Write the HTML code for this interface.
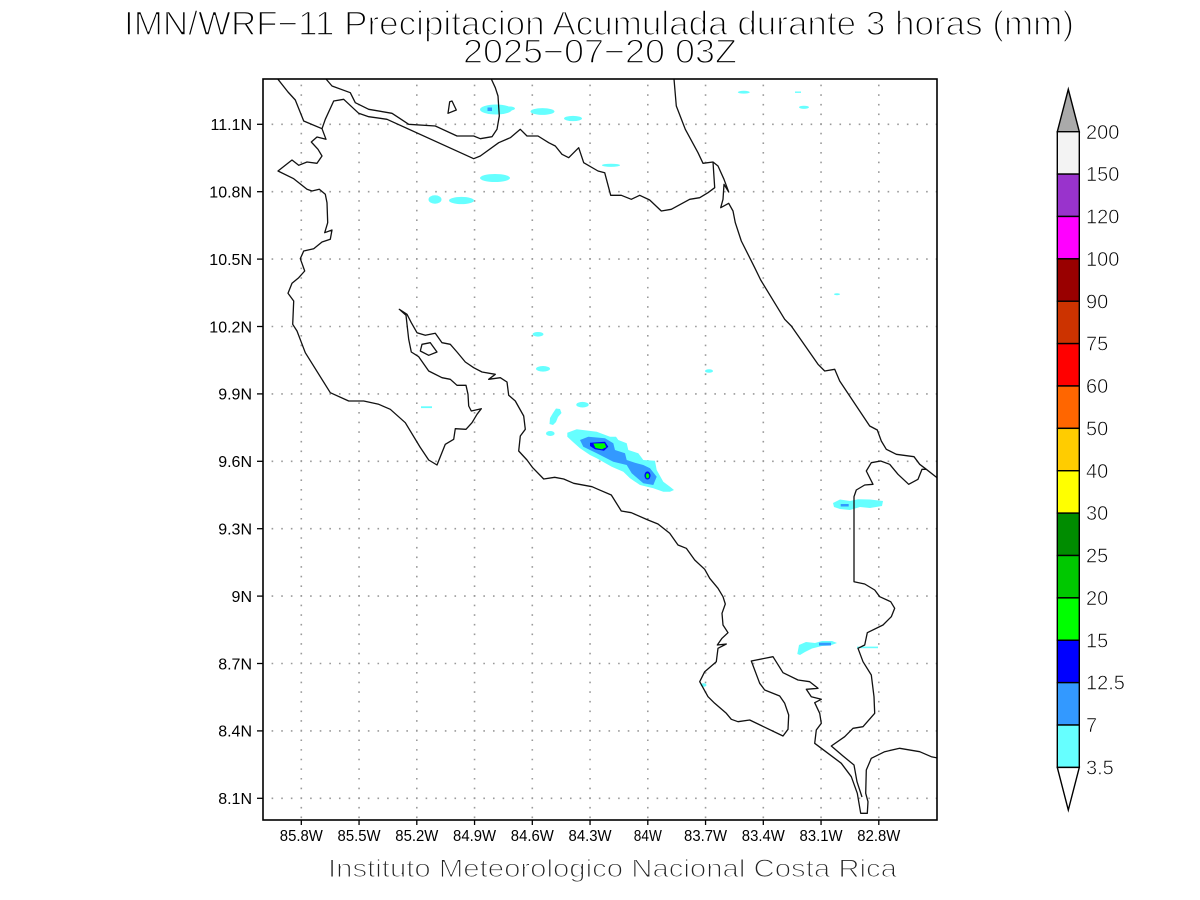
<!DOCTYPE html>
<html><head><meta charset="utf-8"><style>
html,body{margin:0;padding:0;background:#fff;}
svg{display:block;}
text{font-family:"Liberation Sans",Arial,sans-serif;}
</style></head><body>
<svg width="1200" height="900" viewBox="0 0 1200 900" xmlns="http://www.w3.org/2000/svg">
<rect width="1200" height="900" fill="#fff"/>
<!-- Title -->
<g fill="#000" stroke="#fff" stroke-width="1.4" text-anchor="middle">
<text x="599" y="35" font-size="34" textLength="950" lengthAdjust="spacingAndGlyphs">IMN/WRF−11 Precipitacion Acumulada durante 3 horas (mm)</text>
<text x="600" y="63" font-size="34" textLength="274" lengthAdjust="spacingAndGlyphs">2025−07−20 03Z</text>
</g>

<defs><clipPath id="c"><rect x="263" y="79" width="674" height="741"/></clipPath></defs>

<!-- grid -->
<g stroke="#9a9a9a" stroke-width="1.6" stroke-dasharray="1.6 8.025" fill="none">
<line x1="271.6" y1="124.3" x2="937" y2="124.3"/>
<line x1="271.6" y1="191.7" x2="937" y2="191.7"/>
<line x1="271.6" y1="259.1" x2="937" y2="259.1"/>
<line x1="271.6" y1="326.5" x2="937" y2="326.5"/>
<line x1="271.6" y1="393.9" x2="937" y2="393.9"/>
<line x1="271.6" y1="461.3" x2="937" y2="461.3"/>
<line x1="271.6" y1="528.7" x2="937" y2="528.7"/>
<line x1="271.6" y1="596.1" x2="937" y2="596.1"/>
<line x1="271.6" y1="663.5" x2="937" y2="663.5"/>
<line x1="271.6" y1="730.9" x2="937" y2="730.9"/>
<line x1="271.6" y1="798.3" x2="937" y2="798.3"/>
</g>
<g stroke="#9a9a9a" stroke-width="1.6" stroke-dasharray="1.6 8.03" fill="none">
<line x1="301.3" y1="84.6" x2="301.3" y2="820"/>
<line x1="359.05" y1="84.6" x2="359.05" y2="820"/>
<line x1="416.8" y1="84.6" x2="416.8" y2="820"/>
<line x1="474.55" y1="84.6" x2="474.55" y2="820"/>
<line x1="532.3" y1="84.6" x2="532.3" y2="820"/>
<line x1="590.05" y1="84.6" x2="590.05" y2="820"/>
<line x1="647.8" y1="84.6" x2="647.8" y2="820"/>
<line x1="705.55" y1="84.6" x2="705.55" y2="820"/>
<line x1="763.3" y1="84.6" x2="763.3" y2="820"/>
<line x1="821.05" y1="84.6" x2="821.05" y2="820"/>
<line x1="878.8" y1="84.6" x2="878.8" y2="820"/>
</g>

<!-- precipitation -->
<g clip-path="url(#c)">
<g fill="#66ffff">
<ellipse cx="496" cy="109.5" rx="16" ry="5"/>
<ellipse cx="510" cy="108.5" rx="5" ry="2"/>
<ellipse cx="542.5" cy="111.5" rx="12" ry="3.4"/>
<ellipse cx="573" cy="118.5" rx="9" ry="2.6"/>
<ellipse cx="495" cy="178" rx="15" ry="4"/>
<ellipse cx="435" cy="199.5" rx="6.5" ry="4.2"/>
<ellipse cx="461.5" cy="200.5" rx="12.5" ry="3.6"/>
<ellipse cx="538" cy="334.3" rx="5.5" ry="2.3"/>
<ellipse cx="543" cy="368.8" rx="7" ry="2.8"/>
<rect x="421" y="406.3" width="11" height="1.8"/>
<ellipse cx="582.5" cy="404.7" rx="6.2" ry="2.8"/>
<polygon points="556,408.5 560,409 561.5,413 558,417 556,422 553,425 549.5,424 550,418 553,413"/>
<ellipse cx="550.3" cy="433.5" rx="4.3" ry="2.5"/>
<ellipse cx="743.8" cy="92.2" rx="6" ry="1.4"/>
<rect x="795" y="91.5" width="6" height="1.4"/>
<ellipse cx="804" cy="107.3" rx="5" ry="1.6"/>
<ellipse cx="611" cy="165.3" rx="9" ry="1.6"/>
<ellipse cx="837" cy="294.2" rx="3" ry="1"/>
<ellipse cx="709" cy="371" rx="4" ry="1.8"/>
<polygon points="833,503 840,499.5 850,501 858,499.3 870,499.5 883,501 882,506 870,508 860,507 850,510 840,509 834,507"/>
<polygon points="797.3,654 799,645 806,642 815,643 822,641 832,641 837,643 830,645.5 822,646 812,648.5 805,652 800,655"/>
<rect x="857" y="646.6" width="21" height="1.6"/>
<ellipse cx="703.5" cy="685" rx="3" ry="1.8"/>
<polygon points="567.3,432.7 576.7,429.3 596.7,431.7 610,436.7 616,436.7 618.3,440 626.7,443.3 628.3,450 638.3,453.3 643.3,460 655,460.7 656.7,470 663.3,481.7 670,486.7 674,490 670,491.7 663.3,491.7 653.3,488.3 640,485 630,478.3 623.3,471.7 611.7,466.7 596.7,458.3 590,455 580,448.3 572.7,441.7 567.3,436.7"/>
</g>
<g fill="#3399ff">
<rect x="487.5" y="107.5" width="4.5" height="3.5"/>
<polygon points="580,440 588.3,436.7 605,438.3 613.3,443.3 615,450 625,453.3 626.7,460 636.7,463.3 643.3,465 650,468.3 656.7,476.7 653.3,485 643.3,483.3 631.7,473.3 626.7,465 613.3,461.7 596.7,453.3 583.3,446.7"/>
<rect x="840.7" y="504" width="8" height="2.5"/>
<rect x="819" y="642.7" width="12" height="2.8"/>
</g>
<polygon fill="#0000ff" points="590,442.7 605,441.7 608.3,446.7 604,450.7 595,449.3 590,446"/>
<polygon fill="#00ff00" points="593.3,443.5 604.5,443.3 606.3,447.1 602,449.3 595.5,448"/>
<ellipse cx="647.5" cy="475.5" rx="3" ry="4" fill="#0000ff"/>
<ellipse cx="647.5" cy="475.8" rx="1.7" ry="2.6" fill="#00ff00"/>
</g>

<!-- coastlines -->
<g clip-path="url(#c)" fill="none" stroke="#111" stroke-width="1.3" stroke-linejoin="round">
<polyline points="278,79.3 288,92 295.3,100 303.7,121 322,128.7 326,139.3 317,137 311.3,142 318,149.3 322,156 317,163.3 307,162 298.7,165.3 292,160 278,171 293.7,178.7 307,189.3 312,191 319.3,189.3 325.3,194.3 327,202.7 327.7,222.7 324.7,232.7 332,230 330.3,239.3 322,242 313.7,248.7 303.7,251 300.3,258.7 304.7,271 298.7,277.7 292,283.3 288,293.3 293.7,301 292.7,324.3 297,331 305.3,352.7 330.3,392.7 348.7,401 363.7,401 378.7,404.3 390.3,409.3 405.3,422.7 420,447 428.7,460 437,465 441,455 445.3,444.3 453.7,439.3 455.3,428.7 466,429.3 472,422.7 477,414.3 481.3,408.7 471.3,411 468.7,406 468,394.3 466,385.3 457,385.3 450.3,379.3 442,377.7 428.7,371 418.7,356.7 411.3,352 408.7,339.3 406,315.3 399.3,309.3 407,314.3 411.3,322.7 417,332.7 425.3,335.3 435.3,333.3 442,342.7 450.3,344.3 457,352 465.3,362 473.7,367.7 482,372 495.3,374.3 488.7,379.3 500.3,377.7 507,382 508.7,395.3 515.3,401 523.7,416 525.3,429.3 520.3,436 518.7,451 527,460 532.7,467.7 543.7,479 554.7,477.3 563.7,479 573.7,483.3 592,486.7 598,489.3 611.3,495 621.3,511 631.3,512.7 648,520 658,524 669.7,533.3 678,545 686.3,548.3 694.7,560 704.7,569.3 709.7,578.3 718,588.3 723,596.7 725.3,604 722,613.3 723,625 728,632.7 722,638.3 717.3,645 726.3,644 718,648.3 716.3,661.7 704.7,671.7 699.7,681.7 708,696.7 714.7,703.3 726.3,713.3 731.3,719.3 738,721.7 749.7,720 783,736 788,729.3 788.7,715 784.7,703.3 779.7,696 764.7,690 759.7,683.3 751.3,661 773,656.7 783,672.7 798,680 809.7,681.7 818,688.3 806.3,689.3 811.3,696.7 821.3,699.3 814.7,702.7 819.7,713.3 821.3,723.3 816.3,730 814.7,743.3 828,753.3 841.3,763.3 851.3,776.7 857.3,793.3 860.7,813.3 867.3,813.3 868,801.7 865.7,793.3 866.3,770 871.3,758.3 884.7,751.7 899.7,748.3 919.7,751.7 931.3,756.7 940,758.5"/>
<polyline points="926.3,469.3 922,469.3 918,479.3 908.7,484.3 898,474.3 889.7,464.3 880.7,461 871.3,462.7 866.3,471 873,484.3 864.7,485 856.3,490 854,496.7 854,581.7 864.7,584 874.7,590 879.7,596.7 890.7,601.7 894.7,608.3 891.3,616.7 883,625 867.3,632.7 864.7,645 858,648.3 863,661.7 871.3,675 874,696.7 874.7,713.3 863,726.7 853,728.3 844.7,736.7 831.3,746 843,756 854,765 857,781.7 862,797"/>
<polyline points="326,79 332,86 350.3,92.7 355.3,102.7 368.7,109.3 392,113.3 398.7,117.7 408.7,124.3 435.3,126 457,136 473.7,136 480.3,138.7 492,136.7 497,129.3 499.3,116 498,96 495.3,87.7 491.3,79"/>
<polyline points="322,128.7 325.3,119.3 333.7,101 343.7,99.3 358.7,113.3 368.7,116.7 387,119.3 473.7,158.7 480.3,156 498.7,142.7 510.3,137.7 520.3,129.3 527,136 538,136 548.7,142.7 555.3,146 562,154.3 568.7,157.7 578.7,147.7 583.7,162.7 598,171 604.7,172.7 610.7,195.3 621.3,195.3 631.3,199.3 639.7,195.3 649.7,200 661.3,211 671.3,209.3 689.7,199.3 699.7,197.7 708,192.7 714.7,187.7 713,162"/>
<polyline points="674,79 676.3,106 685.3,129.3 698,152.7 703,163.3 713,162 718,166 724,179.3 728.7,192 724,184.3 723,199.3 720.7,207.7 728.7,203.3 733,211 735.3,222.7 741.3,241 749.7,257.7 754.7,267.7 760.7,280 784.7,319.3 791.3,326 818,364.3 824.7,371 834.7,369.3 839.7,381 869.7,426 877.3,430 881.3,441 886.3,449.3 896.3,454.3 914,456.7 919.7,464.3 926.3,469.3 940,480"/>
<polygon points="422,344.3 430.3,342.7 437,352 428.7,355.3 420.3,351"/>
<polygon points="449.7,101.7 452,101 456.3,110 448,113.3"/>
</g>

<!-- frame & ticks -->
<rect x="263" y="79" width="674" height="741" fill="none" stroke="#000" stroke-width="1.6"/>
<g stroke="#000" stroke-width="1.3">
<line x1="257" y1="124.3" x2="263" y2="124.3"/>
<line x1="257" y1="191.7" x2="263" y2="191.7"/>
<line x1="257" y1="259.1" x2="263" y2="259.1"/>
<line x1="257" y1="326.5" x2="263" y2="326.5"/>
<line x1="257" y1="393.9" x2="263" y2="393.9"/>
<line x1="257" y1="461.3" x2="263" y2="461.3"/>
<line x1="257" y1="528.7" x2="263" y2="528.7"/>
<line x1="257" y1="596.1" x2="263" y2="596.1"/>
<line x1="257" y1="663.5" x2="263" y2="663.5"/>
<line x1="257" y1="730.9" x2="263" y2="730.9"/>
<line x1="257" y1="798.3" x2="263" y2="798.3"/>
<line x1="301.3" y1="820" x2="301.3" y2="825"/>
<line x1="359.05" y1="820" x2="359.05" y2="825"/>
<line x1="416.8" y1="820" x2="416.8" y2="825"/>
<line x1="474.55" y1="820" x2="474.55" y2="825"/>
<line x1="532.3" y1="820" x2="532.3" y2="825"/>
<line x1="590.05" y1="820" x2="590.05" y2="825"/>
<line x1="647.8" y1="820" x2="647.8" y2="825"/>
<line x1="705.55" y1="820" x2="705.55" y2="825"/>
<line x1="763.3" y1="820" x2="763.3" y2="825"/>
<line x1="821.05" y1="820" x2="821.05" y2="825"/>
<line x1="878.8" y1="820" x2="878.8" y2="825"/>
</g>
<g font-size="16" fill="#000" text-anchor="end">
<text x="252" y="130.1">11.1N</text>
<text x="252" y="197.5">10.8N</text>
<text x="252" y="264.9">10.5N</text>
<text x="252" y="332.3">10.2N</text>
<text x="252" y="399.7">9.9N</text>
<text x="252" y="467.1">9.6N</text>
<text x="252" y="534.5">9.3N</text>
<text x="252" y="601.9">9N</text>
<text x="252" y="669.3">8.7N</text>
<text x="252" y="736.7">8.4N</text>
<text x="252" y="804.1">8.1N</text>
</g>
<g font-size="16" fill="#000" text-anchor="middle">
<text x="301.3" y="841" textLength="43" lengthAdjust="spacingAndGlyphs">85.8W</text>
<text x="359.05" y="841" textLength="43" lengthAdjust="spacingAndGlyphs">85.5W</text>
<text x="416.8" y="841" textLength="43" lengthAdjust="spacingAndGlyphs">85.2W</text>
<text x="474.55" y="841" textLength="43" lengthAdjust="spacingAndGlyphs">84.9W</text>
<text x="532.3" y="841" textLength="43" lengthAdjust="spacingAndGlyphs">84.6W</text>
<text x="590.05" y="841" textLength="43" lengthAdjust="spacingAndGlyphs">84.3W</text>
<text x="647.8" y="841" textLength="28" lengthAdjust="spacingAndGlyphs">84W</text>
<text x="705.55" y="841" textLength="43" lengthAdjust="spacingAndGlyphs">83.7W</text>
<text x="763.3" y="841" textLength="43" lengthAdjust="spacingAndGlyphs">83.4W</text>
<text x="821.05" y="841" textLength="43" lengthAdjust="spacingAndGlyphs">83.1W</text>
<text x="878.8" y="841" textLength="43" lengthAdjust="spacingAndGlyphs">82.8W</text>
</g>

<!-- footer -->
<text x="328" y="877" font-size="25" textLength="569" lengthAdjust="spacingAndGlyphs" fill="#222" stroke="#fff" stroke-width="1.1">Instituto Meteorologico Nacional Costa Rica</text>

<!-- colorbar -->
<g stroke="#000" stroke-width="1.4">
<polygon points="1068.3,89.3 1079.3,131.7 1057.3,131.7" fill="#aaaaaa"/>
<rect x="1057.3" y="131.7" width="22" height="42.38" fill="#f3f3f3"/>
<rect x="1057.3" y="174.08" width="22" height="42.38" fill="#9933cc"/>
<rect x="1057.3" y="216.46" width="22" height="42.38" fill="#ff00ff"/>
<rect x="1057.3" y="258.84" width="22" height="42.38" fill="#990000"/>
<rect x="1057.3" y="301.22" width="22" height="42.38" fill="#cc3300"/>
<rect x="1057.3" y="343.6" width="22" height="42.38" fill="#ff0000"/>
<rect x="1057.3" y="385.98" width="22" height="42.38" fill="#ff6600"/>
<rect x="1057.3" y="428.36" width="22" height="42.38" fill="#ffcc00"/>
<rect x="1057.3" y="470.74" width="22" height="42.38" fill="#ffff00"/>
<rect x="1057.3" y="513.12" width="22" height="42.38" fill="#008c00"/>
<rect x="1057.3" y="555.5" width="22" height="42.38" fill="#00c800"/>
<rect x="1057.3" y="597.88" width="22" height="42.38" fill="#00ff00"/>
<rect x="1057.3" y="640.26" width="22" height="42.38" fill="#0000ff"/>
<rect x="1057.3" y="682.64" width="22" height="42.38" fill="#3399ff"/>
<rect x="1057.3" y="725.02" width="22" height="42.38" fill="#66ffff"/>
<polygon points="1057.3,767.4 1079.3,767.4 1068.3,810" fill="#ffffff"/>
</g>
<g font-size="20" fill="#000" stroke="#fff" stroke-width="0.6">
<text x="1086" y="138.8">200</text>
<text x="1086" y="181.2">150</text>
<text x="1086" y="223.6">120</text>
<text x="1086" y="265.9">100</text>
<text x="1086" y="308.3">90</text>
<text x="1086" y="350.7">75</text>
<text x="1086" y="393.1">60</text>
<text x="1086" y="435.5">50</text>
<text x="1086" y="477.8">40</text>
<text x="1086" y="520.2">30</text>
<text x="1086" y="562.6">25</text>
<text x="1086" y="605">20</text>
<text x="1086" y="647.4">15</text>
<text x="1086" y="689.7">12.5</text>
<text x="1086" y="732.1">7</text>
<text x="1086" y="774.5">3.5</text>
</g>
</svg>
</body></html>
